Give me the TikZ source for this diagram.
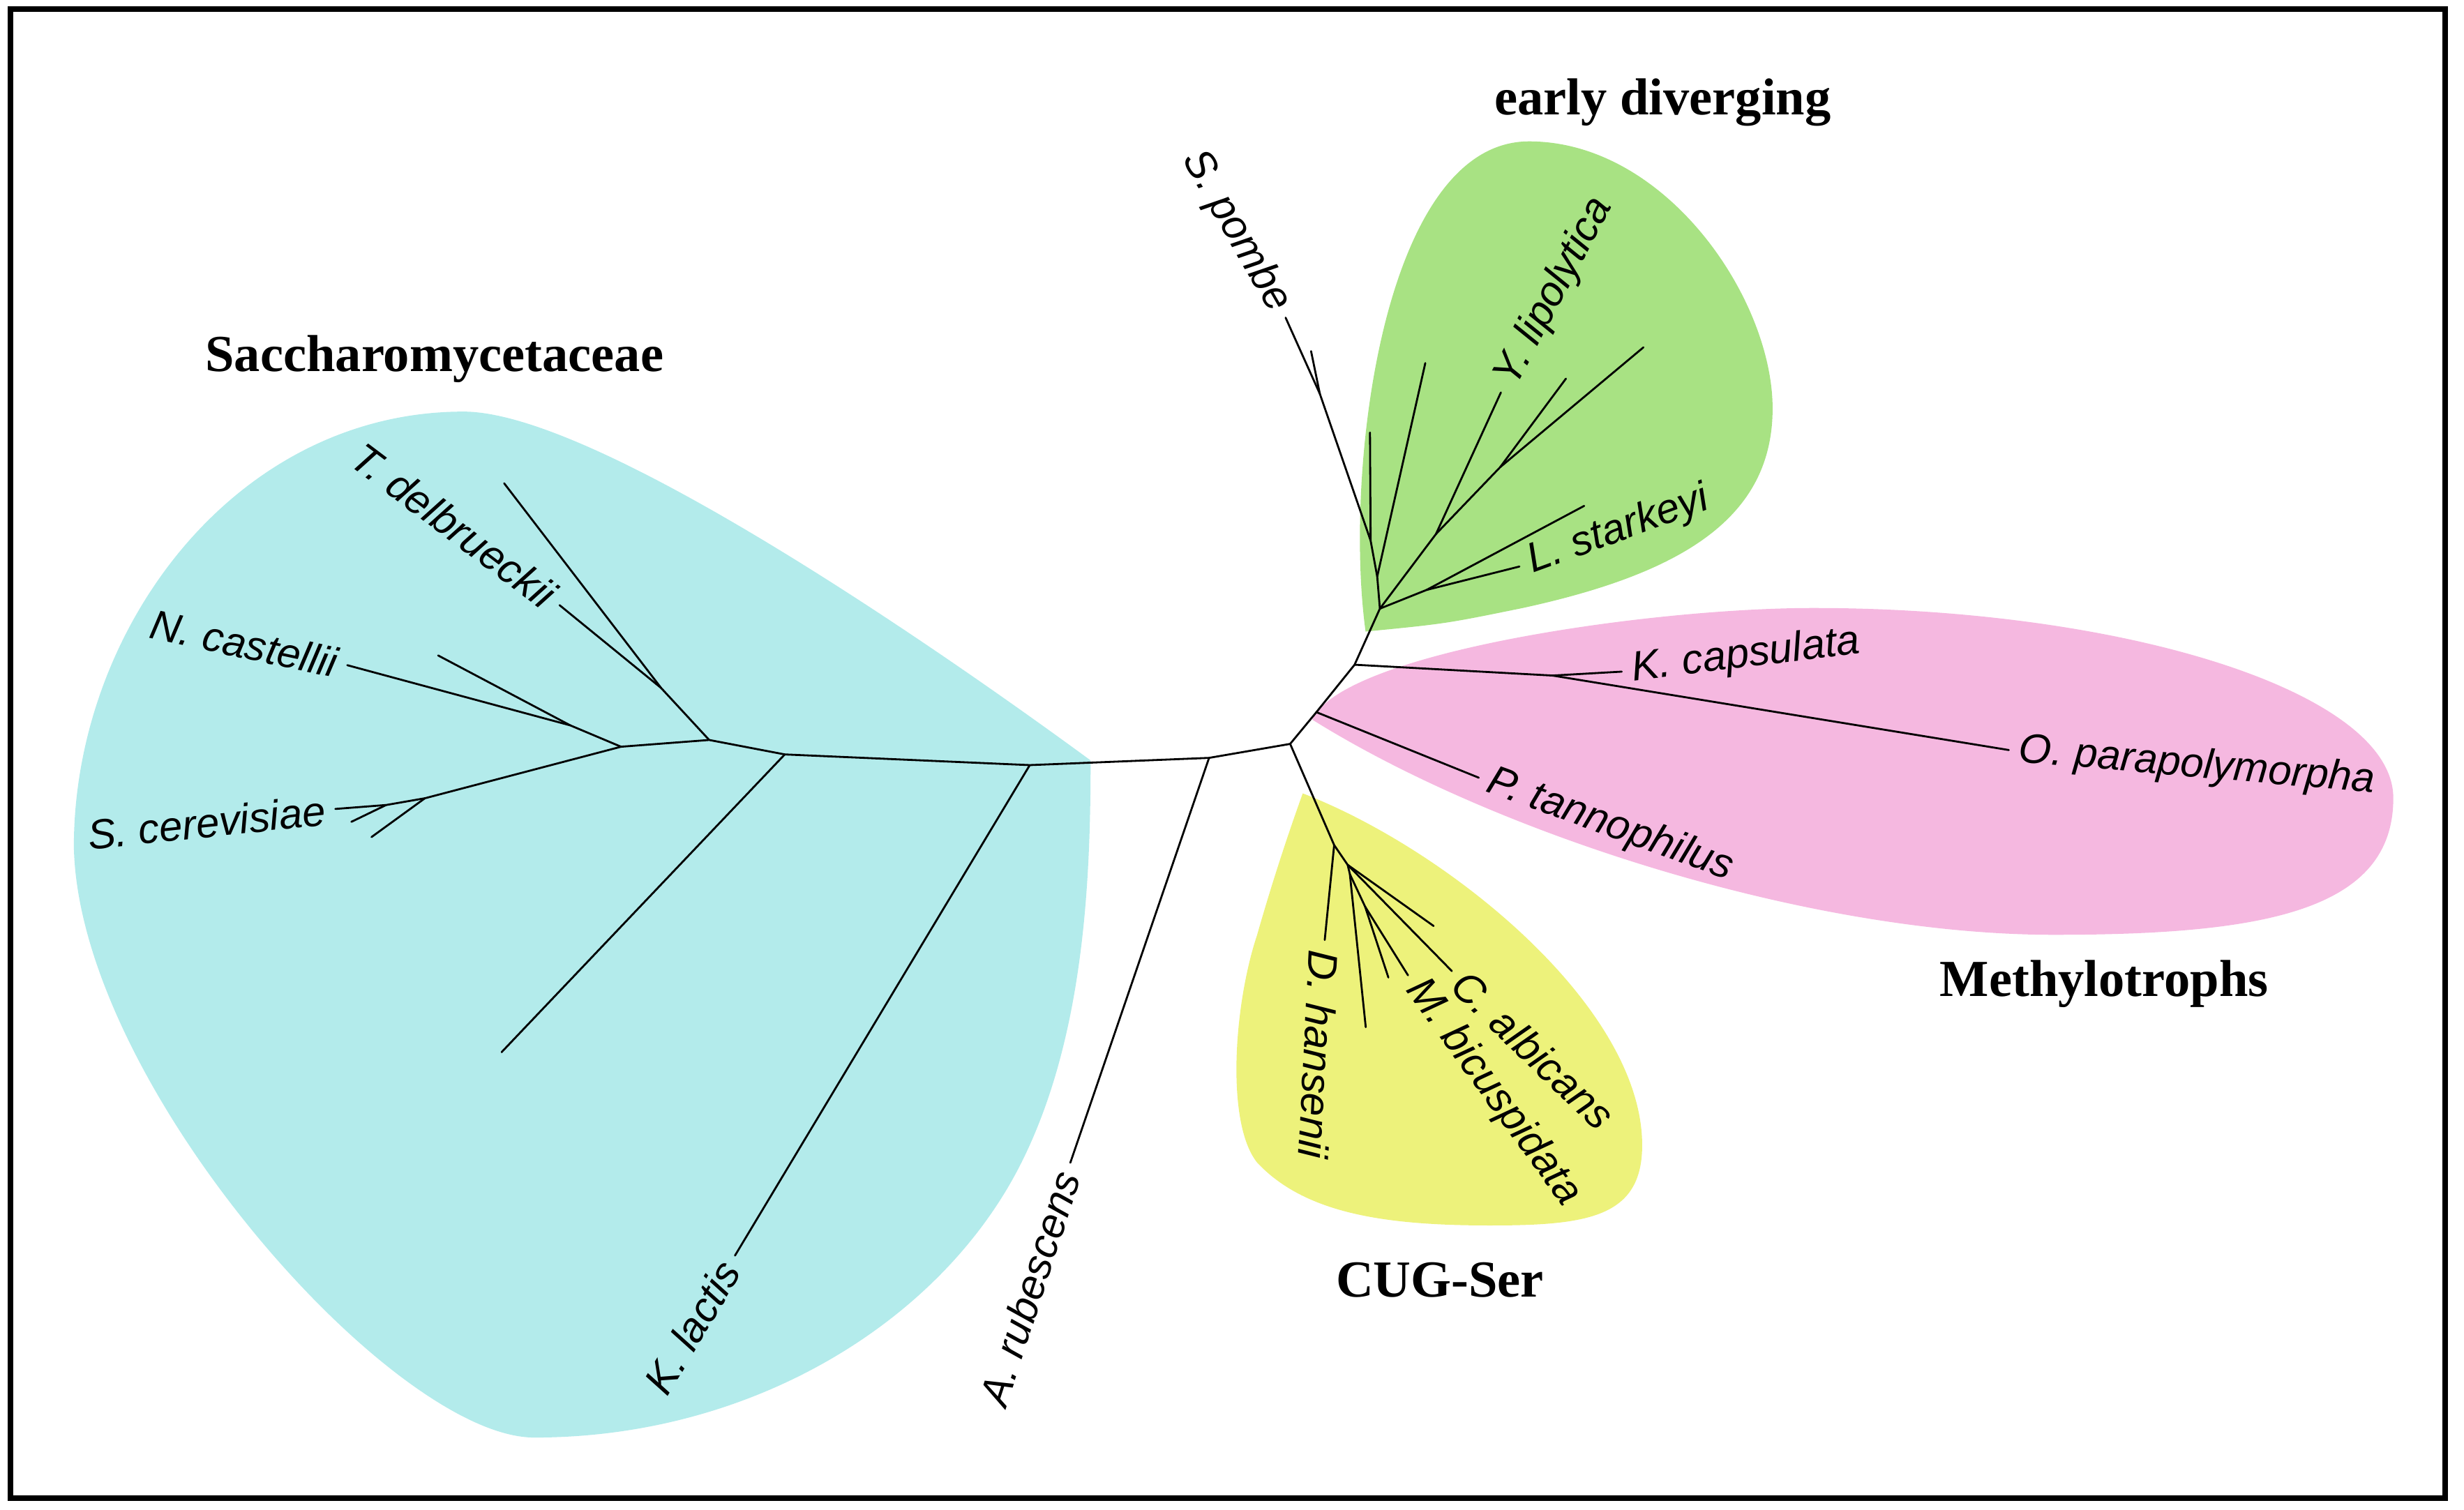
\documentclass[tikz,border=0pt]{standalone}
\usepackage{fontspec}
\setmainfont{Liberation Serif}
\newfontfamily\taxfont{Liberation Sans}
\definecolor{saccfill}{RGB}{179,235,235}
\definecolor{earlyfill}{RGB}{168,226,131}
\definecolor{methfill}{RGB}{245,184,224}
\definecolor{cugfill}{RGB}{237,242,123}
\begin{document}
\begin{tikzpicture}[x=0.022526cm, y=-0.022526cm,
    branch/.style={line width=0.8pt, line cap=round, line join=round},
    taxon/.style={font=\taxfont\itshape\fontsize{17}{20}\selectfont, inner sep=4pt},
    clade/.style={font=\bfseries\fontsize{21.2}{25}\selectfont, anchor=base, inner sep=0pt}]
   \useasboundingbox (0,0) rectangle (1568,960.7);
   % clade shading
   \fill[saccfill] (694,484) .. controls (600,415) and (380,262) .. (295,262)
      .. controls (150,262) and (47,400) .. (47,539)
      .. controls (50,690) and (250,915) .. (340,915)
      .. controls (480,915) and (600,840) .. (650,740)
      .. controls (690,660) and (694,560) .. (694,484) -- cycle;
   \fill[earlyfill] (869,402) .. controls (855,300) and (880,90) .. (973,90)
      .. controls (1060,90) and (1128,190) .. (1128,260)
      .. controls (1128,330) and (1070,365) .. (969,387)
      .. controls (920,397) .. (869,402) -- cycle;
   \fill[methfill] (835,458) .. controls (855,415) and (1050,387) .. (1154,387)
      .. controls (1350,387) and (1523,440) .. (1523,508)
      .. controls (1523,580) and (1440,595) .. (1307,595)
      .. controls (1150,595) and (950,530) .. (835,458) -- cycle;
   \fill[cugfill] (829,505) .. controls (920,540) and (1045,640) .. (1045,729)
      .. controls (1045,775) and (1010,780) .. (948,780)
      .. controls (880,780) and (830,772) .. (800,740)
      .. controls (780,715) and (785,640) .. (800,595)
      .. controls (810,560) and (820,530) .. (829,505) -- cycle;
   % inner nodes
   \coordinate (sN1) at (395.2,475.3);
   \coordinate (sN2) at (451.3,471);
   \coordinate (sN3) at (499.4,480.2);
   \coordinate (sN4) at (655.3,487);
   \coordinate (sN5) at (769.4,482.4);
   \coordinate (root) at (821,473.5);
   \coordinate (sT1) at (420.7,437.9);
   \coordinate (sNc) at (362.9,461.7);
   \coordinate (sS0) at (270.4,508.1);
   \coordinate (sS1) at (245.7,512.4);
   \coordinate (mP) at (837.7,453.3);
   \coordinate (mK) at (862,423.1);
   \coordinate (mK2) at (988,430);
   \coordinate (eA) at (878.1,387.4);
   \coordinate (eB) at (876.4,367);
   \coordinate (eC) at (872.2,344.1);
   \coordinate (eD) at (839.9,250.7);
   \coordinate (eE) at (913.8,339.9);
   \coordinate (eF) at (954.6,297.4);
   \coordinate (eG) at (907.8,375.5);
   \coordinate (cA) at (849,537.9);
   \coordinate (cB) at (857.6,550.5);
   \coordinate (cC) at (859,556.4);
   \coordinate (cD) at (868.7,577.1);
   % leaves
   \coordinate (tdel) at (356.1,385.2);
   \coordinate (lf1) at (320.8,307.6);
   \coordinate (ncas) at (221,423.4);
   \coordinate (lf2) at (278.8,417.2);
   \coordinate (scer) at (213.4,514.9);
   \coordinate (lf3) at (223.6,523.1);
   \coordinate (lf4) at (236.4,532.8);
   \coordinate (lf5) at (319.2,669.7);
   \coordinate (klac) at (467.7,799.2);
   \coordinate (arub) at (681.1,740.1);
   \coordinate (ptan) at (941,495);
   \coordinate (kcap) at (1032,427.5);
   \coordinate (opar) at (1278.3,477.4);
   \coordinate (spom) at (818.1,202.2);
   \coordinate (lf6) at (834.3,223.5);
   \coordinate (lf7) at (871.8,275.3);
   \coordinate (lf8) at (907,231.1);
   \coordinate (ylip) at (955.1,249.8);
   \coordinate (lf9) at (996.5,241);
   \coordinate (lf10) at (1045.8,221.1);
   \coordinate (lf11) at (1008.1,322);
   \coordinate (lsta) at (966.9,360.6);
   \coordinate (dhan) at (843,598.3);
   \coordinate (lf12) at (912.3,589.4);
   \coordinate (calb) at (923.9,618.1);
   \coordinate (lf13) at (869.1,653.8);
   \coordinate (lf14) at (883.5,622.2);
   \coordinate (mbic) at (896,620.8);
   % branches
   \draw[branch] (sN1) -- (sN2) -- (sN3) -- (sN4) -- (sN5) -- (root) -- (mP) -- (mK) -- (eA) -- (eB) -- (eC) -- (eD) -- (spom);
   \draw[branch] (sN2) -- (sT1) -- (tdel);
   \draw[branch] (sT1) -- (lf1);
   \draw[branch] (sN1) -- (sNc) -- (ncas);
   \draw[branch] (sNc) -- (lf2);
   \draw[branch] (sN1) -- (sS0) -- (sS1) -- (scer);
   \draw[branch] (sS1) -- (lf3);
   \draw[branch] (sS0) -- (lf4);
   \draw[branch] (sN3) -- (lf5);
   \draw[branch] (sN4) -- (klac);
   \draw[branch] (sN5) -- (arub);
   \draw[branch] (mP) -- (ptan);
   \draw[branch] (mK) -- (mK2) -- (kcap);
   \draw[branch] (mK2) -- (opar);
   \draw[branch] (eD) -- (lf6);
   \draw[branch] (eC) -- (lf7);
   \draw[branch] (eB) -- (lf8);
   \draw[branch] (eA) -- (eE) -- (ylip);
   \draw[branch] (eE) -- (eF) -- (lf9);
   \draw[branch] (eF) -- (lf10);
   \draw[branch] (eA) -- (eG) -- (lf11);
   \draw[branch] (eG) -- (lsta);
   \draw[branch] (root) -- (cA) -- (dhan);
   \draw[branch] (cA) -- (cB) -- (lf12);
   \draw[branch] (cB) -- (calb);
   \draw[branch] (cB) -- (cC) -- (lf13);
   \draw[branch] (cC) -- (cD) -- (lf14);
   \draw[branch] (cD) -- (mbic);
   % taxon labels
   \node[taxon, anchor=east, rotate=-37] (tdelname) at (tdel) {T. delbrueckii};
   \node[taxon, anchor=east, rotate=-12] (ncasname) at (ncas) {N. castellii};
   \node[taxon, anchor=east, rotate=6] (scername) at (scer) {S. cerevisiae};
   \node[taxon, anchor=east, rotate=59] (klacname) at (klac) {K. lactis};
   \node[taxon, anchor=east, rotate=72] (arubname) at (arub) {A. rubescens};
   \node[taxon, anchor=east, rotate=-60] (spomname) at (spom) {S. pombe};
   \node[taxon, anchor=west, rotate=62] (ylipname) at (ylip) {Y. lipolytica};
   \node[taxon, anchor=west, rotate=20] (lstaname) at (lsta) {L. starkeyi};
   \node[taxon, anchor=west, rotate=7] (kcapname) at (kcap) {K. capsulata};
   \node[taxon, anchor=west, rotate=-5] (oparname) at (opar) {O. parapolymorpha};
   \node[taxon, anchor=west, rotate=-20] (ptanname) at (ptan) {P. tannophilus};
   \node[taxon, anchor=west, rotate=-44] (calbname) at (calb) {C. albicans};
   \node[taxon, anchor=west, rotate=-54] (mbicname) at (mbic) {M. bicuspidata};
   \node[taxon, anchor=west, rotate=-93] (dhanname) at (dhan) {D. hansenii};
   % clade titles
   \node[clade] (sacctitle) at (276.5,236.6) {Saccharomycetaceae};
   \node[clade] (earlytitle) at (1058,73) {early diverging};
   \node[clade] (methtitle) at (1339,634) {Methylotrophs};
   \node[clade] (cugtitle) at (916.3,825.3) {CUG-Ser};
   % frame
   \draw[line width=2.3pt] (6.7,5.95) rectangle (1555.9,953.4);
 \end{tikzpicture}
\end{document}
